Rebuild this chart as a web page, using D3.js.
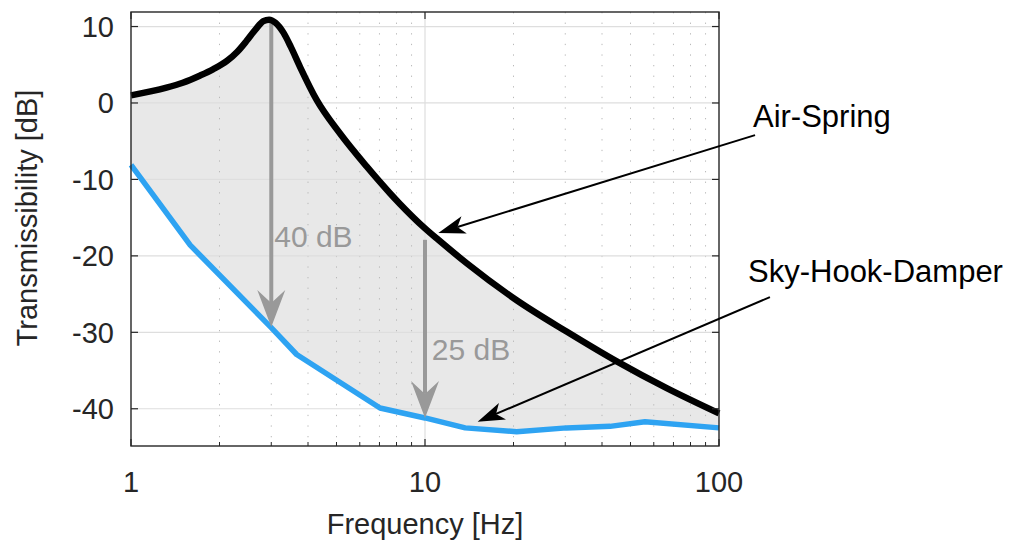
<!DOCTYPE html>
<html>
<head>
<meta charset="utf-8">
<script src="https://cdn.jsdelivr.net/npm/d3@7"></script>
<style>
  html, body { margin: 0; padding: 0; background: #fff; }
  svg text { font-family: "Liberation Sans", Arial, Helvetica, sans-serif; fill: #262626; }
</style>
</head>
<body>
<svg id="chart" width="1014" height="543"></svg>
<script>
// values
const airFreq = [1, 1.32, 1.5, 1.72, 1.9, 2.12, 2.3, 2.47, 2.65, 2.82, 2.95, 3.1, 3.3, 3.5, 3.76, 4.28, 5.14, 6.33, 7.6, 8.22, 10, 11.1, 13.9, 20.5, 30.3, 44.9, 66.4, 100];
const airDb   = [1.0, 2.0, 2.65, 3.6, 4.4, 5.5, 6.7, 8.1, 9.6, 10.7, 10.9, 10.5, 9.2, 7.3, 4.7, 0.4, -4.0, -8.3, -11.8, -13.2, -16.4, -17.9, -21.0, -25.8, -29.9, -33.8, -37.3, -40.6];

const skyFreq = [1, 1.59, 3.01, 3.66, 7.03, 10, 13.7, 20.5, 30.3, 42.6, 56, 100];
const skyDb   = [-8.1, -18.6, -29.45, -32.9, -39.9, -41.2, -42.5, -43.0, -42.5, -42.3, -41.7, -42.5];

const xTicks = [1, 10, 100];
const xMinor = [2, 3, 4, 5, 6, 7, 8, 9, 20, 30, 40, 50, 60, 70, 80, 90];
const yTicks = [-40, -30, -20, -10, 0, 10];

// gray difference arrows: frequency, top dB, bottom dB, label and its anchor (f, dB)
const gapFreq  = [3, 10];
const gapTop   = [10.8, -17.9];
const gapBot   = [-29.3, -41.2];
const gapLabel = ["40 dB", "25 dB"];
const gapLabelAt = [[3.07, -18.9], [10.55, -33.6]];

// callouts: text, text anchor (f, dB), arrow tail (f, dB), arrow tip (f, dB)
const callText = ["Air-Spring", "Sky-Hook-Damper"];
const callAt   = [[130.5, -3.1], [125.5, -23.4]];
const callTail = [[132.6, -4.2], [149, -25.4]];
const callTip  = [[11.1, -17.0], [15.1, -41.7]];

const svg = d3.select('#chart');
const pL = 131, pR = 719, pT = 12, pB = 446;

const x = d3.scaleLog().domain([1, 100]).range([pL, pR]);
const y = d3.scaleLinear().domain([-44.87, 11.9]).range([pB, pT]);

const air = airFreq.map((f, i) => [f, airDb[i]]);
const sky = skyFreq.map((f, i) => [f, skyDb[i]]);

const airLine = d3.line().x(d => x(d[0])).y(d => y(d[1])).curve(d3.curveMonotoneX);
const skyLine = d3.line().x(d => x(d[0])).y(d => y(d[1]));

// shaded band between the two curves
const band = airLine(air) + 'L' + skyLine(sky.slice().reverse()).slice(1) + 'Z';
svg.append('path').attr('d', band).attr('fill', '#e8e8e8').attr('stroke', 'none');

// grid
const grid = svg.append('g');
grid.selectAll('.minor').data(xMinor).enter().append('line')
    .attr('x1', d => x(d)).attr('x2', d => x(d))
    .attr('y1', pT).attr('y2', pB)
    .attr('stroke', '#b9b9b9').attr('stroke-width', 1)
    .attr('stroke-dasharray', '1.3,9.3');
grid.selectAll('.ymaj').data(yTicks).enter().append('line')
    .attr('x1', pL).attr('x2', pR)
    .attr('y1', d => y(d)).attr('y2', d => y(d))
    .attr('stroke', '#dedede').attr('stroke-width', 1.2);
grid.selectAll('.xmaj').data(xTicks.slice(1, -1)).enter().append('line')
    .attr('x1', d => x(d)).attr('x2', d => x(d))
    .attr('y1', pT).attr('y2', pB)
    .attr('stroke', '#dedede').attr('stroke-width', 1.2);

// arrow helper (MATLAB vback2 style head)
function arrow(g, x1, y1, x2, y2, color, width, len, half, notch) {
    const dx = x2 - x1, dy = y2 - y1;
    const L = Math.sqrt(dx * dx + dy * dy);
    const ux = dx / L, uy = dy / L;
    const px = -uy, py = ux;
    g.append('line')
        .attr('x1', x1).attr('y1', y1)
        .attr('x2', x2 - ux * notch).attr('y2', y2 - uy * notch)
        .attr('stroke', color).attr('stroke-width', width);
    const pts = [
        [x2, y2],
        [x2 - ux * len + px * half, y2 - uy * len + py * half],
        [x2 - ux * notch, y2 - uy * notch],
        [x2 - ux * len - px * half, y2 - uy * len - py * half]
    ];
    g.append('path').attr('d', 'M' + pts.join('L') + 'Z').attr('fill', color);
}

// blue curve
svg.append('path').attr('d', skyLine(sky))
    .attr('fill', 'none').attr('stroke', '#2ea3f2').attr('stroke-width', 5.5)
    .attr('stroke-linejoin', 'round');

// gray arrows + labels
const gap = svg.append('g');
gapFreq.forEach((f, i) => {
    arrow(gap, x(f), y(gapTop[i]), x(f), y(gapBot[i]), '#999999', 4, 37, 14, 24);
    gap.append('text')
        .attr('x', x(gapLabelAt[i][0])).attr('y', y(gapLabelAt[i][1]))
        .style('font-size', '30px').style('fill', '#999999')
        .text(gapLabel[i]);
});

// black curve
svg.append('path').attr('d', airLine(air))
    .attr('fill', 'none').attr('stroke', '#000').attr('stroke-width', 6.5)
    .attr('stroke-linejoin', 'round');

// box + ticks
const ax = svg.append('g').attr('stroke', '#262626');
ax.append('rect').attr('x', pL).attr('y', pT)
    .attr('width', pR - pL).attr('height', pB - pT)
    .attr('fill', 'none').attr('stroke-width', 1.4);
yTicks.forEach(t => {
    ax.append('line').attr('x1', pL).attr('x2', pL + 7).attr('y1', y(t)).attr('y2', y(t)).attr('stroke-width', 1.2);
    ax.append('line').attr('x1', pR - 7).attr('x2', pR).attr('y1', y(t)).attr('y2', y(t)).attr('stroke-width', 1.2);
});
xTicks.forEach(t => {
    ax.append('line').attr('x1', x(t)).attr('x2', x(t)).attr('y1', pB).attr('y2', pB - 7).attr('stroke-width', 1.2);
    ax.append('line').attr('x1', x(t)).attr('x2', x(t)).attr('y1', pT).attr('y2', pT + 7).attr('stroke-width', 1.2);
});
xMinor.forEach(t => {
    ax.append('line').attr('x1', x(t)).attr('x2', x(t)).attr('y1', pB).attr('y2', pB - 4).attr('stroke-width', 1);
});

// tick labels
svg.selectAll('.xlab').data(xTicks).enter().append('text')
    .attr('x', d => x(d)).attr('y', 492)
    .attr('text-anchor', 'middle').style('font-size', '29px')
    .text(d => d);
svg.selectAll('.ylab').data(yTicks).enter().append('text')
    .attr('x', 114).attr('y', d => y(d) + 10.5)
    .attr('text-anchor', 'end').style('font-size', '29px')
    .text(d => d);

// axis titles
svg.append('text').attr('x', (pL + pR) / 2).attr('y', 534)
    .attr('text-anchor', 'middle').style('font-size', '29px')
    .text('Frequency [Hz]');
svg.append('text')
    .attr('transform', 'translate(37,218) rotate(-90)')
    .attr('text-anchor', 'middle').style('font-size', '29px')
    .text('Transmissibility [dB]');

// callouts
const call = svg.append('g');
callText.forEach((t, i) => {
    call.append('text')
        .attr('x', x(callAt[i][0])).attr('y', y(callAt[i][1]))
        .style('font-size', '31px').style('fill', '#000')
        .text(t);
    arrow(call, x(callTail[i][0]), y(callTail[i][1]), x(callTip[i][0]), y(callTip[i][1]), '#000', 2, 27, 9, 20);
});
</script>
</body>
</html>
